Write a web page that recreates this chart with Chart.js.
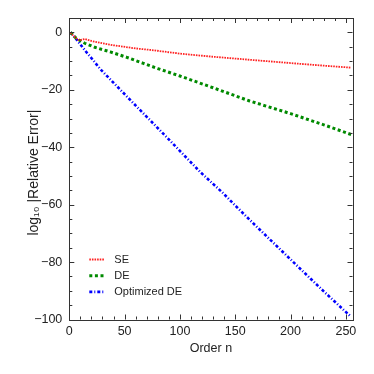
<!DOCTYPE html>
<html>
<head>
<meta charset="utf-8">
<script src="https://cdn.jsdelivr.net/npm/chart.js@4/dist/chart.umd.min.js"></script>
<style>
  html, body { margin: 0; padding: 0; background: #fff; }
  #wrap { width: 374px; height: 374px; }
</style>
</head>
<body>
<div id="wrap"><canvas id="c" width="374" height="374"></canvas></div>
<script>
// ---- data ----
const seN    = [1, 4, 8, 10, 14, 20, 30, 40, 60, 73, 100, 130, 168, 200, 230, 255];
const seVals = [0, -1.3, -2.6, -2.7, -2.3, -3.0, -3.8, -4.5, -5.6, -6.1, -7.4, -8.5, -9.7, -10.7, -11.6, -12.3];

const deN    = [1, 6, 14, 23, 37, 52, 67, 80, 100, 130, 163, 200, 230, 255];
const deVals = [0, -2.0, -3.8, -5.2, -6.8, -8.7, -10.8, -12.6, -15.2, -19.3, -23.9, -28.3, -32.2, -35.6];

const odeN    = [1, 6, 14, 22, 28, 58, 88, 118, 139, 151, 170, 199, 230, 254];
const odeVals = [0, -2.2, -6.2, -9.9, -12.8, -24.7, -36.5, -48.5, -56.0, -60.7, -67.9, -78.7, -90.2, -98.8];

const seriesLabels = ['SE', 'DE', 'Optimized DE'];
const xTickVals = [0, 50, 100, 150, 200, 250];
const yTickVals = [-100, -80, -60, -40, -20, 0];
const xMinorStep = 10;
const yMinorStep = 5;
const xRange = [0, 256];
const yRange = [-100, 5];

const toPts = (xs, ys) => xs.map((v, i) => ({ x: v, y: ys[i] }));
const FONT = '"Liberation Sans", Arial, Helvetica, sans-serif';
const AXIS_COLOR = '#333';

const frameTicks = {
  id: 'frameTicks',
  afterDatasetsDraw(chart) {
    const { ctx, chartArea: a, scales: { x, y } } = chart;
    ctx.save();
    ctx.strokeStyle = AXIS_COLOR;
    ctx.lineWidth = 1;
    ctx.beginPath();
    for (let v = xRange[0]; v <= xRange[1]; v += xMinorStep) {
      const px = Math.round(x.getPixelForValue(v)) + 0.5;
      const L = xTickVals.includes(v) ? 5 : 3;
      ctx.moveTo(px, a.bottom); ctx.lineTo(px, a.bottom - L);
      ctx.moveTo(px, a.top); ctx.lineTo(px, a.top + L);
    }
    for (let v = yRange[0]; v <= yRange[1]; v += yMinorStep) {
      const py = Math.round(y.getPixelForValue(v)) + 0.5;
      const L = yTickVals.includes(v) ? 5 : 3;
      ctx.moveTo(a.left, py); ctx.lineTo(a.left + L, py);
      ctx.moveTo(a.right, py); ctx.lineTo(a.right - L, py);
    }
    ctx.stroke();
    ctx.strokeRect(Math.round(a.left) + 0.5, Math.round(a.top) + 0.5,
                   Math.round(a.right) - Math.round(a.left), Math.round(a.bottom) - Math.round(a.top));
    ctx.restore();
  }
};

const insideLegend = {
  id: 'insideLegend',
  afterDraw(chart) {
    const { ctx, chartArea: a } = chart;
    ctx.save();
    ctx.font = '11px ' + FONT;
    ctx.textBaseline = 'middle';
    ctx.fillStyle = '#222';
    chart.data.datasets.forEach((ds, i) => {
      const yy = a.bottom - 60 + i * 16.2;
      const x0 = a.left + 20, x1 = a.left + 35;
      ctx.save();
      ctx.strokeStyle = ds.borderColor;
      ctx.lineWidth = ds.borderWidth;
      ctx.setLineDash(ds.borderDash || []);
      ctx.beginPath(); ctx.moveTo(x0, yy); ctx.lineTo(x1, yy); ctx.stroke();
      ctx.restore();
      ctx.fillText(ds.label, a.left + 45, yy);
    });
    ctx.restore();
  }
};

new Chart(document.getElementById('c'), {
  type: 'line',
  data: {
    datasets: [
      { label: seriesLabels[0], data: toPts(seN, seVals), borderColor: '#ff2020', borderWidth: 1.8, borderDash: [1.6, 1.0] },
      { label: seriesLabels[1], data: toPts(deN, deVals), borderColor: '#008a00', borderWidth: 3, borderDash: [3, 2.6] },
      { label: seriesLabels[2], data: toPts(odeN, odeVals), borderColor: '#0000ff', borderWidth: 2.6, borderDash: [3, 2, 1, 2] }
    ]
  },
  options: {
    responsive: false,
    animation: false,
    devicePixelRatio: 1,
    layout: { padding: { top: 18, right: 21.5, left: 0, bottom: 0 } },
    elements: { point: { radius: 0 }, line: { tension: 0, fill: false } },
    plugins: { legend: { display: false }, tooltip: { enabled: false } },
    scales: {
      x: {
        type: 'linear', min: xRange[0], max: xRange[1],
        grid: { display: false, drawTicks: false },
        border: { display: false },
        afterBuildTicks: s => { s.ticks = xTickVals.map(v => ({ value: v })); },
        afterFit: s => { s.height = 54.5; },
        ticks: { padding: 5, color: '#222', font: { family: FONT, size: 12.5 }, maxRotation: 0,
                 callback: v => (v < 0 ? '\u2212' + Math.abs(v) : String(v)) },
        title: { display: true, text: 'Order n', color: '#222', font: { family: FONT, size: 12.5 }, padding: { top: 0, bottom: 18 } }
      },
      y: {
        type: 'linear', min: yRange[0], max: yRange[1],
        grid: { display: false, drawTicks: false },
        border: { display: false },
        afterBuildTicks: s => { s.ticks = yTickVals.map(v => ({ value: v })); },
        afterFit: s => { s.width = 69.3; },
        ticks: { padding: 7, color: '#222', font: { family: FONT, size: 12.5 },
                 callback: v => (v < 0 ? '\u2212' + Math.abs(v) : String(v)) },
        title: { display: true, text: 'log\u2081\u2080 |Relative Error|\u00a0\u00a0', color: '#222', font: { family: FONT, size: 14 }, padding: { top: 26, bottom: 0 } }
      }
    }
  },
  plugins: [frameTicks, insideLegend]
});
</script>
</body>
</html>
